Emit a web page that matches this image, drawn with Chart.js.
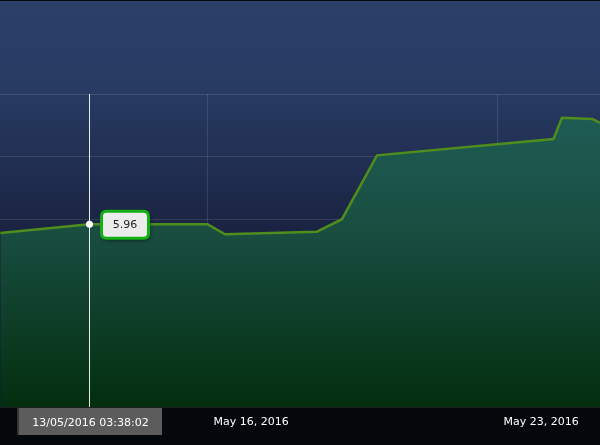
<!DOCTYPE html>
<html>
<head>
<meta charset="utf-8">
<script src="https://cdn.jsdelivr.net/npm/chart.js@4.4.1/dist/chart.umd.min.js"></script>
<style>
html,body{margin:0;padding:0;overflow:hidden;width:600px;height:445px;background:#04070b;}
canvas{display:block;}
</style>
</head>
<body>
<canvas id="c" width="600" height="445"></canvas>
<script>
// ---- data ----
const timestamps = ['2016-05-11T00:00:00','2016-05-13T03:38:02','2016-05-16T00:00:00','2016-05-16T10:08:00','2016-05-18T15:26:00','2016-05-19T05:54:00','2016-05-20T02:11:00','2016-05-24T08:25:00','2016-05-24T13:21:00','2016-05-25T07:02:00','2016-05-25T11:22:00'];
const values = [5.89, 5.96, 5.96, 5.88, 5.90, 6.00, 6.51, 6.64, 6.81, 6.80, 6.77];
const tickDates = ['2016-05-16T00:00:00','2016-05-23T00:00:00'];
const tickLabels = ['May 16, 2016','May 23, 2016'];
const axisStart = '2016-05-10T23:48:00';
const axisEnd = '2016-05-25T11:22:00';
const hoverIndex = 1;
const hoverLabel = '13/05/2016 03:38:02';

function toMs(s){
  const m = s.match(/(\d+)-(\d+)-(\d+)T(\d+):(\d+):(\d+)/);
  return Date.UTC(+m[1], +m[2]-1, +m[3], +m[4], +m[5], +m[6]);
}
const points = timestamps.map((t,i)=>({x:toMs(t), y:values[i]}));
const tickMs = tickDates.map(toMs);

Chart.defaults.font.family = "'DejaVu Sans', Verdana, sans-serif";

const bgPlugin = {
  id:'bg',
  beforeDraw(chart){
    const {ctx, chartArea, width, height} = chart;
    const b = chartArea.bottom / height;
    const t = 1 / height;
    ctx.save();
    const g = ctx.createLinearGradient(0,0,0,height);
    g.addColorStop(0,'#04070b');
    g.addColorStop(t,'#04070b');
    g.addColorStop(t,'#2b3f68');
    g.addColorStop(0.22*b,'#283b63');
    g.addColorStop(0.57*b,'#1a2341');
    g.addColorStop(b,'#121a31');
    g.addColorStop(b,'#04070b');
    g.addColorStop(1,'#04070b');
    ctx.fillStyle = g;
    ctx.fillRect(0,0,width,height);
    ctx.restore();
  }
};

function roundRect(ctx,x,y,w,h,r){
  ctx.beginPath();
  ctx.moveTo(x+r,y);
  ctx.lineTo(x+w-r,y);
  ctx.quadraticCurveTo(x+w,y,x+w,y+r);
  ctx.lineTo(x+w,y+h-r);
  ctx.quadraticCurveTo(x+w,y+h,x+w-r,y+h);
  ctx.lineTo(x+r,y+h);
  ctx.quadraticCurveTo(x,y+h,x,y+h-r);
  ctx.lineTo(x,y+r);
  ctx.quadraticCurveTo(x,y,x+r,y);
  ctx.closePath();
}

const hoverPlugin = {
  id:'hover',
  afterDatasetsDraw(chart){
    const {ctx, chartArea} = chart;
    const el = chart.getDatasetMeta(0).data[hoverIndex];
    const px = Math.round(el.x)+0.5;
    ctx.save();
    ctx.strokeStyle = 'rgba(255,255,255,0.9)';
    ctx.lineWidth = 1;
    ctx.beginPath();
    ctx.moveTo(px, chartArea.top);
    ctx.lineTo(px, chartArea.bottom);
    ctx.stroke();
    ctx.fillStyle = '#ffffff';
    ctx.beginPath();
    ctx.arc(el.x, el.y, 3.5, 0, Math.PI*2);
    ctx.fill();
    ctx.restore();
  },
  afterDraw(chart){
    const {ctx, chartArea} = chart;
    const el = chart.getDatasetMeta(0).data[hoverIndex];
    const px = el.x, py = el.y;
    ctx.save();
    const bx = px+12, by = py-13, bw = 47, bh = 27;
    ctx.save();
    ctx.shadowColor = 'rgba(0,0,0,0.55)';
    ctx.shadowBlur = 4;
    ctx.shadowOffsetX = 1;
    ctx.shadowOffsetY = 2;
    roundRect(ctx,bx,by,bw,bh,5);
    ctx.fillStyle = '#ececec';
    ctx.fill();
    ctx.restore();
    roundRect(ctx,bx,by,bw,bh,5);
    ctx.lineWidth = 3;
    ctx.strokeStyle = '#14b014';
    ctx.stroke();
    ctx.fillStyle = '#222222';
    ctx.font = "11px 'DejaVu Sans'";
    ctx.textAlign = 'center';
    ctx.textBaseline = 'middle';
    ctx.fillText(values[hoverIndex].toFixed(2), bx+bw/2, by+bh/2+0.5);
    const lw = 145, lh = 27;
    const lx = Math.round(px - 72.5), ly = chartArea.bottom+1;
    ctx.fillStyle = '#5c5c5c';
    ctx.fillRect(lx, ly, lw, lh);
    ctx.fillStyle = '#363636';
    ctx.fillRect(lx, ly, 2, lh);
    ctx.fillStyle = '#ffffff';
    ctx.fillText(hoverLabel, lx+lw/2+1, ly+lh/2+1.5);
    ctx.restore();
  }
};

new Chart(document.getElementById('c'), {
  type:'line',
  data:{
    datasets:[{
      data: points,
      borderColor:'#4f8d1d',
      borderWidth:2.5,
      tension:0,
      pointRadius:0,
      pointHoverRadius:0,
      fill:'start',
      backgroundColor(ctx){
        const ca = ctx.chart.chartArea;
        if(!ca) return '#1a4c40';
        const g = ctx.chart.ctx.createLinearGradient(0,ca.top,0,ca.bottom);
        g.addColorStop(0,'#1f5f58');
        g.addColorStop(0.45,'#194d40');
        g.addColorStop(1,'#032f0f');
        return g;
      }
    }]
  },
  options:{
    responsive:false,
    animation:false,
    events:[],
    layout:{padding:{top:94,left:0,right:0,bottom:0}},
    plugins:{legend:{display:false}, tooltip:{enabled:false}},
    scales:{
      x:{
        type:'linear',
        min: toMs(axisStart),
        max: toMs(axisEnd),
        afterBuildTicks(scale){ scale.ticks = tickMs.map(v=>({value:v})); },
        afterFit(scale){ scale.height = 38; },
        grid:{color:'rgba(255,255,255,0.11)', drawTicks:false},
        border:{display:false},
        ticks:{
          color:'#ffffff',
          font:{size:11},
          align:'start',
          labelOffset:6,
          padding:9,
          maxRotation:0,
          autoSkip:false,
          callback(v){ const i = tickMs.indexOf(v); return i>=0 ? tickLabels[i] : ''; }
        }
      },
      y:{
        display:true,
        min:4.5,
        max:7.0,
        afterFit(scale){ scale.width = 0; },
        ticks:{display:false, stepSize:0.5},
        grid:{color:'rgba(255,255,255,0.11)', drawTicks:false},
        border:{display:false}
      }
    }
  },
  plugins:[bgPlugin, hoverPlugin]
});
</script>
</body>
</html>
